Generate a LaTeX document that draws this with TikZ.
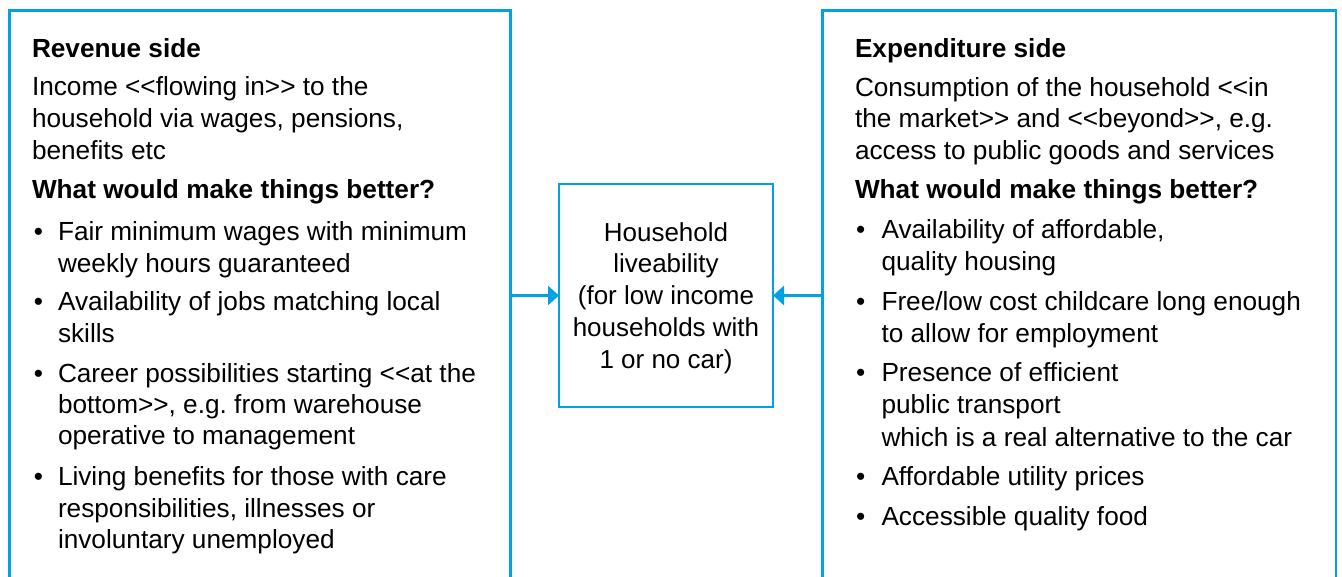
\documentclass[tikz,border=0pt]{standalone}
\usepackage{fontspec}
\setmainfont{Liberation Sans}
\usetikzlibrary{arrows.meta}
\definecolor{accent}{RGB}{0,162,225}
\frenchspacing
\begin{document}
\begin{tikzpicture}[x=1pt,y=-1pt,
  frame/.style={draw=accent, line width=2.6pt, outer sep=0pt, inner sep=0pt, rectangle},
  link/.style={draw=accent, line width=2.6pt, -{Triangle[length=11pt,width=19pt]}},
  txt/.style={anchor=base west, inner sep=0pt, outer sep=0pt, font=\fontsize{26.2}{31}\selectfont},
  hd/.style={txt, font=\fontsize{26.2}{31}\selectfont\bfseries},
  ctr/.style={anchor=base, inner sep=0pt, outer sep=0pt, font=\fontsize{26}{31}\selectfont}]
\clip (0,0) rectangle (1342,576);

% the three frames; the side frames run on below the page
\node[frame, anchor=north west, minimum width=501pt, minimum height=700pt] (rev) at (9.5,10.5) {};
\node[frame, anchor=north west, minimum width=513.5pt, minimum height=700pt] (exp) at (822.5,10.5) {};
\node[frame, minimum width=214pt, minimum height=223pt] (mid) at (666,295.5) {};

% connectors into the central box
\draw[link] (rev.east |- mid.west) -- (mid.west);
\draw[link] (exp.west |- mid.east) -- (mid.east);

% central box text
\node[ctr] (m1) at (666,241)    {Household};
\node[ctr] (m2) at (666,272.75) {liveability};
\node[ctr] (m3) at (666,304.5)  {(for low income};
\node[ctr] (m4) at (666,336.25) {households with};
\node[ctr] (m5) at (666,368)    {1 or no car)};

% revenue side
\node[hd]  (lh)  at (32,57)  {Revenue side};
\node[txt] (li1) at (32,95)  {Income <{}<flowing in>{}> to the};
\node[txt] (li2) at (32,127) {household via wages, pensions,};
\node[txt] (li3) at (32,159) {benefits etc};
\node[hd]  (lq)  at (32,198) {What would make things better?};

\node[txt] (lb1) at (34,240) {•};
\node[txt] (la1) at (58,240) {Fair minimum wages with minimum};
\node[txt] (la2) at (58,272) {weekly hours guaranteed};
\node[txt] (lb2) at (34,310) {•};
\node[txt] (lc1) at (58,310) {Availability of jobs matching local};
\node[txt] (lc2) at (58,342) {skills};
\node[txt] (lb3) at (34,382) {•};
\node[txt] (ld1) at (58,382) {Career possibilities starting <{}<at the};
\node[txt] (ld2) at (58,413) {bottom>{}>, e.g. from warehouse};
\node[txt] (ld3) at (58,444) {operative to management};
\node[txt] (lb4) at (34,485) {•};
\node[txt] (le1) at (58,485) {Living benefits for those with care};
\node[txt] (le2) at (58,517) {responsibilities, illnesses or};
\node[txt] (le3) at (58,548) {involuntary unemployed};

% expenditure side
\node[hd]  (rh)  at (855,57)  {Expenditure side};
\node[txt] (ri1) at (855,96)  {Consumption of the household <{}<in};
\node[txt] (ri2) at (855,127) {the market>{}> and <{}<beyond>{}>, e.g.};
\node[txt] (ri3) at (855,159) {access to public goods and services};
\node[hd]  (rq)  at (855,198) {What would make things better?};

\node[txt] (rb1) at (856,238) {•};
\node[txt] (ra1) at (881.5,238) {Availability of affordable,};
\node[txt] (ra2) at (881.5,270) {quality housing};
\node[txt] (rb2) at (856,310) {•};
\node[txt] (rc1) at (881.5,310) {Free/low cost childcare long enough};
\node[txt] (rc2) at (881.5,342) {to allow for employment};
\node[txt] (rb3) at (856,381) {•};
\node[txt] (rd1) at (881.5,381) {Presence of efficient};
\node[txt] (rd2) at (881.5,413) {public transport};
\node[txt] (rd3) at (881.5,446) {which is a real alternative to the car};
\node[txt] (rb4) at (856,485) {•};
\node[txt] (re1) at (881.5,485) {Affordable utility prices};
\node[txt] (rb5) at (856,525) {•};
\node[txt] (rf1) at (881.5,525) {Accessible quality food};
\end{tikzpicture}
\end{document}
